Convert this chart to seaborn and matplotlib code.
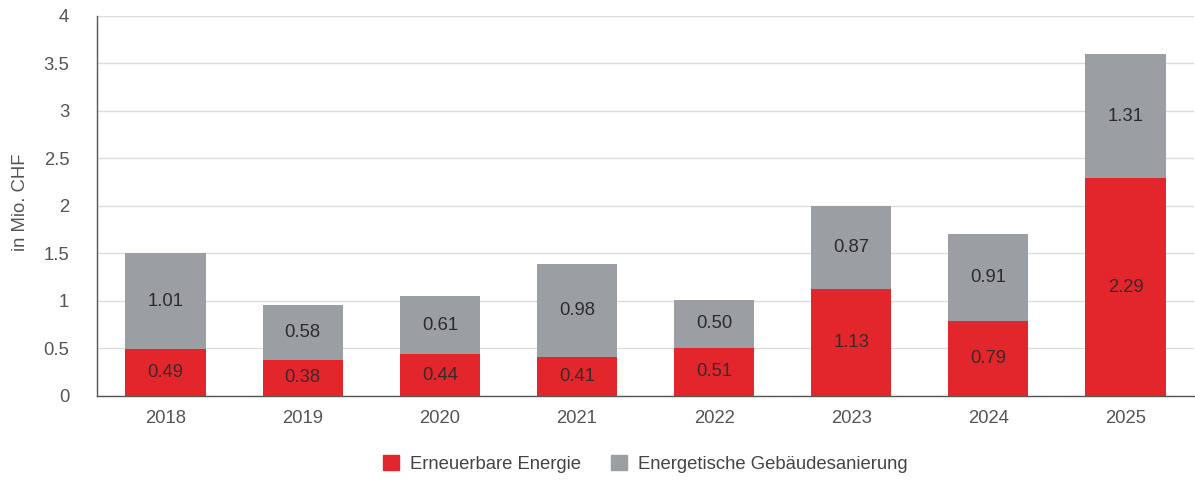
import matplotlib
matplotlib.use("Agg")
import matplotlib.pyplot as plt
import seaborn as sns
import pandas as pd
from matplotlib.patches import Patch

years = ["2018", "2019", "2020", "2021", "2022", "2023", "2024", "2025"]
erneuerbar = [0.49, 0.38, 0.44, 0.41, 0.51, 1.13, 0.79, 2.29]
gebaeude = [1.01, 0.58, 0.61, 0.98, 0.50, 0.87, 0.91, 1.31]
series_names = ["Erneuerbare Energie", "Energetische Gebäudesanierung"]
yticks = [0, 0.5, 1, 1.5, 2, 2.5, 3, 3.5, 4]
ytick_labels = ["0", "0.5", "1", "1.5", "2", "2.5", "3", "3.5", "4"]

RED = "#E3262C"
GRAY = "#9B9FA3"
FS = 13.3

sns.set_theme(style="white")
plt.rcParams["font.family"] = ["Liberation Sans", "DejaVu Sans"]

df = pd.DataFrame({"year": years, "red": erneuerbar, "gray": gebaeude})
df["total"] = df["red"] + df["gray"]

fig = plt.figure(figsize=(11.95, 4.8), dpi=100)
ax = fig.add_axes([0.0812, 0.175, 0.918, 0.7917])

sns.barplot(data=df, x="year", y="total", color=GRAY, width=0.585, ax=ax,
            saturation=1, edgecolor="none", zorder=2)
sns.barplot(data=df, x="year", y="red", color=RED, width=0.585, ax=ax,
            saturation=1, edgecolor="none", zorder=3)

for i, (r, g) in enumerate(zip(erneuerbar, gebaeude)):
    ax.text(i, r / 2, f"{r:.2f}", ha="center", va="center", fontsize=FS,
            color="#3a2a2a", zorder=5)
    ax.text(i, r + g / 2, f"{g:.2f}", ha="center", va="center", fontsize=FS,
            color="#2b2b2b", zorder=5)

ax.set_ylim(0, 4)
ax.set_xlim(-0.5, 7.5)
ax.set_yticks(yticks)
ax.set_yticklabels(ytick_labels)
ax.yaxis.grid(True, color="#dcdcdc", linewidth=1, zorder=0)
ax.set_axisbelow(True)
ax.tick_params(axis="both", length=0, labelsize=FS, labelcolor="#555555")
ax.tick_params(axis="x", pad=10)
ax.tick_params(axis="y", pad=20)
ax.set_xlabel("")
ax.set_ylabel("in Mio. CHF", fontsize=FS, color="#555555")
ax.yaxis.set_label_coords(-0.062, 0.51)
for s in ["top", "right"]:
    ax.spines[s].set_visible(False)
ax.spines["left"].set_color("#555555")
ax.spines["bottom"].set_color("#555555")
ax.spines["left"].set_linewidth(1)
ax.spines["bottom"].set_linewidth(1)

handles = [Patch(color=RED), Patch(color=GRAY)]
fig.legend(handles, series_names, loc="center", bbox_to_anchor=(0.54, 0.033),
           ncol=2, frameon=False, fontsize=FS, handlelength=0.9, handleheight=0.9,
           columnspacing=1.6, handletextpad=0.6, labelcolor="#444444")

fig.savefig("out.png", dpi=100)
